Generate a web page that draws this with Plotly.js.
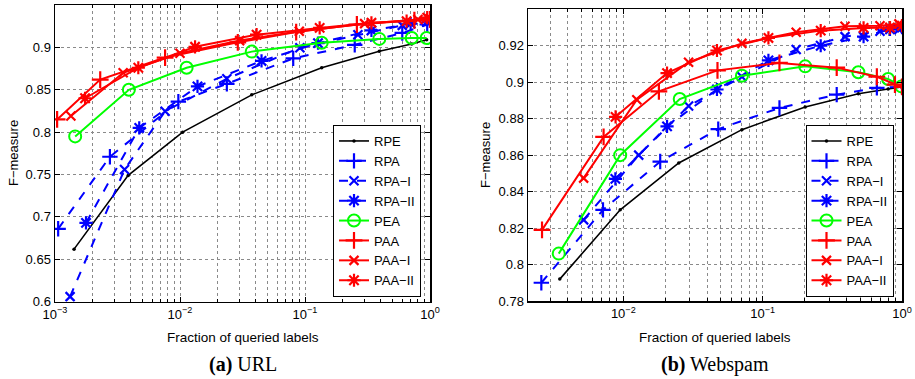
<!DOCTYPE html>
<html><head><meta charset="utf-8">
<script src="https://cdn.plot.ly/plotly-3.0.1.min.js"></script>
<style>html,body{margin:0;padding:0;background:#fff}#chart{width:915px;height:379px}</style>
</head><body><div id="chart"></div>
<script>
// ---------- series names ----------
const seriesNames = ["RPE", "RPA", "RPA\u2212I", "RPA\u2212II", "PEA", "PAA", "PAA\u2212I", "PAA\u2212II"];

// ---------- (a) URL ----------
const urlRpeX  = [0.00142, 0.00385, 0.0105, 0.0375, 0.136, 0.393, 0.714, 0.94];
const urlRpeY  = [0.662, 0.749, 0.800, 0.844, 0.876, 0.8955, 0.904, 0.909];
const urlRpaX  = [0.00106, 0.00275, 0.0097, 0.0237, 0.0805, 0.25, 0.6, 0.95];
const urlRpaY  = [0.686, 0.771, 0.836, 0.857, 0.887, 0.903, 0.917, 0.927];
const urlRpa1X = [0.00132, 0.0036, 0.0076, 0.0237, 0.091, 0.265, 0.6, 0.95];
const urlRpa1Y = [0.606, 0.756, 0.8246, 0.863, 0.8995, 0.915, 0.926, 0.930];
const urlRpa2X = [0.00177, 0.00472, 0.0138, 0.0449, 0.127, 0.34, 0.7, 1.0];
const urlRpa2Y = [0.693, 0.805, 0.854, 0.884, 0.905, 0.920, 0.928, 0.931];
const urlPeaX  = [0.00145, 0.0039, 0.0113, 0.0375, 0.136, 0.393, 0.714, 0.94];
const urlPeaY  = [0.795, 0.850, 0.876, 0.895, 0.9055, 0.910, 0.911, 0.911];
const urlPaaX  = [0.00104, 0.0023, 0.0076, 0.029, 0.085, 0.26, 0.75, 1.0];
const urlPaaY  = [0.815, 0.862, 0.888, 0.906, 0.918, 0.927, 0.932, 0.933];
const urlPaa1X = [0.00134, 0.00351, 0.01, 0.03, 0.09, 0.3, 0.8, 1.0];
const urlPaa1Y = [0.819, 0.870, 0.893, 0.908, 0.919, 0.928, 0.933, 0.934];
const urlPaa2X = [0.00174, 0.00464, 0.0132, 0.041, 0.131, 0.34, 0.65, 0.95];
const urlPaa2Y = [0.840, 0.876, 0.9007, 0.915, 0.923, 0.929, 0.931, 0.935];

// ---------- (b) Webspam ----------
const wsRpeX  = [0.0035, 0.0095, 0.025, 0.071, 0.202, 0.486, 0.795, 0.99];
const wsRpeY  = [0.792, 0.830, 0.8557, 0.874, 0.8864, 0.8937, 0.8963, 0.8974];
const wsRpaX  = [0.00258, 0.00715, 0.0184, 0.048, 0.132, 0.34, 0.66, 1.0];
const wsRpaY  = [0.790, 0.830, 0.8565, 0.8743, 0.8859, 0.8932, 0.8969, 0.8975];
const wsRpa1X = [0.00519, 0.0129, 0.0294, 0.071, 0.174, 0.39, 0.695, 0.95];
const wsRpa1Y = [0.8245, 0.860, 0.887, 0.903, 0.918, 0.925, 0.928, 0.929];
const wsRpa2X = [0.00877, 0.0206, 0.047, 0.11, 0.261, 0.53, 0.82, 1.0];
const wsRpa2Y = [0.847, 0.8758, 0.896, 0.912, 0.920, 0.925, 0.929, 0.930];
const wsPeaX  = [0.00344, 0.0095, 0.0254, 0.071, 0.202, 0.486, 0.795, 0.99];
const wsPeaY  = [0.806, 0.860, 0.8908, 0.9036, 0.9087, 0.9055, 0.9018, 0.8977];
const wsPaaX  = [0.00261, 0.00722, 0.018, 0.0474, 0.132, 0.34, 0.66, 0.89, 1.0];
const wsPaaY  = [0.819, 0.870, 0.895, 0.9065, 0.9106, 0.908, 0.903, 0.8987, 0.8974];
const wsPaa1X = [0.00519, 0.0125, 0.0294, 0.071, 0.174, 0.39, 0.695, 0.95];
const wsPaa1Y = [0.8474, 0.8904, 0.911, 0.9213, 0.9274, 0.9307, 0.931, 0.932];
const wsPaa2X = [0.0088, 0.0206, 0.047, 0.11, 0.261, 0.53, 0.82, 1.0];
const wsPaa2Y = [0.881, 0.905, 0.9174, 0.9243, 0.9283, 0.9298, 0.930, 0.931];

// ---------- tick labels ----------
const urlYTicks = [0.6, 0.65, 0.7, 0.75, 0.8, 0.85, 0.9];
const wsYTicks  = [0.78, 0.8, 0.82, 0.84, 0.86, 0.88, 0.9, 0.92];
const xTicks    = [0.001, 0.01, 0.1, 1];
const xTickText = ["10<sup>\u22123</sup>", "10<sup>\u22122</sup>", "10<sup>\u22121</sup>", "10<sup>0</sup>"];

const urlData = [[urlRpeX,urlRpeY],[urlRpaX,urlRpaY],[urlRpa1X,urlRpa1Y],[urlRpa2X,urlRpa2Y],
                 [urlPeaX,urlPeaY],[urlPaaX,urlPaaY],[urlPaa1X,urlPaa1Y],[urlPaa2X,urlPaa2Y]];
const wsData  = [[wsRpeX,wsRpeY],[wsRpaX,wsRpaY],[wsRpa1X,wsRpa1Y],[wsRpa2X,wsRpa2Y],
                 [wsPeaX,wsPeaY],[wsPaaX,wsPaaY],[wsPaa1X,wsPaa1Y],[wsPaa2X,wsPaa2Y]];

const styles = [
  {color:"#000000", dash:"solid", lw:1.6, sym:"circle", size:3.5, mlw:0},
  {color:"#0000ff", dash:"dash",  lw:2,   sym:"cross-thin-open", size:11, mlw:2.2},
  {color:"#0000ff", dash:"dash",  lw:2,   sym:"x-thin-open", size:9, mlw:2.2},
  {color:"#0000ff", dash:"dash",  lw:2,   sym:"asterisk-open", size:11, mlw:2.2},
  {color:"#00ff00", dash:"solid", lw:2,   sym:"circle-open", size:12, mlw:2},
  {color:"#ff0000", dash:"solid", lw:2,   sym:"cross-thin-open", size:12, mlw:2.2},
  {color:"#ff0000", dash:"solid", lw:2,   sym:"x-thin-open", size:9, mlw:2.2},
  {color:"#ff0000", dash:"solid", lw:2,   sym:"asterisk-open", size:11, mlw:2.2}
];

const traces = [];
function addPanel(data, xa, ya, legend) {
  data.forEach((d, i) => {
    const s = styles[i];
    traces.push({
      x: d[0], y: d[1], xaxis: xa, yaxis: ya, legend: legend,
      name: seriesNames[i], type: "scatter", mode: "lines+markers",
      line: {color: s.color, width: s.lw, dash: s.dash},
      marker: {symbol: s.sym, size: s.size, color: s.color, line: {color: s.color, width: s.mlw}},
      cliponaxis: true
    });
  });
}
addPanel(urlData, "x", "y", "legend");
addPanel(wsData, "x2", "y2", "legend2");

const W = 915, H = 379;
const font = {family: "Liberation Sans, Arial, sans-serif", size: 13, color: "#000"};
function xAxis(domain, range, anchor) {
  return {
    type: "log", domain: domain, range: range, anchor: anchor,
    tickmode: "array", tickvals: xTicks, ticktext: xTickText,
    ticks: "inside", ticklen: 5, tickcolor: "#000",
    showline: true, linecolor: "#000", linewidth: 1.5, mirror: "allticks",
    showgrid: true, gridcolor: "#8a8a8a", griddash: "dot", gridwidth: 1,
    minor: {dtick: "D1", showgrid: true, gridcolor: "#8a8a8a", griddash: "dot", gridwidth: 1,
            ticks: "inside", ticklen: 3, tickcolor: "#000"},
    zeroline: false, tickfont: font, fixedrange: true
  };
}
function yAxis(domain, range, ticks, anchor) {
  return {
    domain: domain, range: range, anchor: anchor,
    tickmode: "array", tickvals: ticks,
    ticks: "inside", ticklen: 5, tickcolor: "#000",
    showline: true, linecolor: "#000", linewidth: 1.5, mirror: "allticks",
    showgrid: true, gridcolor: "#8a8a8a", griddash: "dot", gridwidth: 1,
    zeroline: false, tickfont: font, fixedrange: true
  };
}

const legendStyle = (x, y) => ({
  x: x, y: y, xanchor: "left", yanchor: "bottom", xref: "paper", yref: "paper",
  bgcolor: "#fff", bordercolor: "#000", borderwidth: 1,
  font: {family: "Liberation Sans, Arial, sans-serif", size: 13, color: "#000"},
  tracegroupgap: 0, itemwidth: 30
});

const titleFont = {family: "Liberation Sans, Arial, sans-serif", size: 13.5, color: "#000"};
const capFont = {family: "Liberation Serif, DejaVu Serif, serif", size: 20, color: "#000"};

const layout = {
  width: W, height: H,
  margin: {l: 0, r: 0, t: 0, b: 0},
  paper_bgcolor: "#fff", plot_bgcolor: "#fff",
  showlegend: true,
  xaxis: xAxis([55/W, 430/W], [-3, 0], "y"),
  yaxis: yAxis([(H-301.7)/H, (H-5)/H], [0.6, 0.95], urlYTicks, "x"),
  xaxis2: xAxis([528/W, 902/W], [Math.log10(0.00207), 0], "y2"),
  yaxis2: yAxis([(H-301)/H, (H-9.3)/H], [0.78, 0.94], wsYTicks, "x2"),
  legend: legendStyle(333/W, (H-297)/H),
  legend2: legendStyle(805.5/W, (H-297)/H),
  annotations: [
    {text: "F\u2212measure", xref: "paper", yref: "paper", x: 13/W, y: (H-153)/H, textangle: -90,
     showarrow: false, font: font, xanchor: "center", yanchor: "middle"},
    {text: "F\u2212measure", xref: "paper", yref: "paper", x: 485/W, y: (H-155)/H, textangle: -90,
     showarrow: false, font: font, xanchor: "center", yanchor: "middle"},
    {text: "Fraction of queried labels", xref: "paper", yref: "paper", x: 242.5/W, y: (H-337)/H,
     showarrow: false, font: titleFont, xanchor: "center", yanchor: "middle"},
    {text: "Fraction of queried labels", xref: "paper", yref: "paper", x: 715/W, y: (H-337)/H,
     showarrow: false, font: titleFont, xanchor: "center", yanchor: "middle"},
    {text: "<b>(a)</b> URL", xref: "paper", yref: "paper", x: 243/W, y: (H-364)/H,
     showarrow: false, font: capFont, xanchor: "center", yanchor: "middle"},
    {text: "<b>(b)</b> Webspam", xref: "paper", yref: "paper", x: 715/W, y: (H-364)/H,
     showarrow: false, font: capFont, xanchor: "center", yanchor: "middle"}
  ]
};

Plotly.newPlot("chart", traces, layout, {displayModeBar: false, staticPlot: true});
</script></body></html>
